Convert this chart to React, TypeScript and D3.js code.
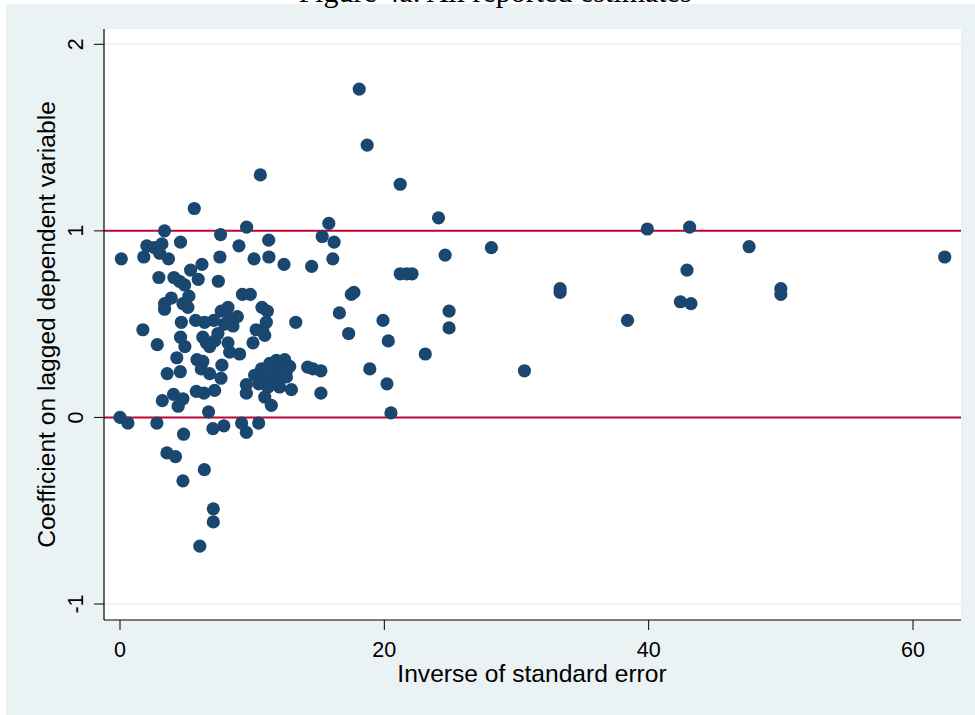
import React, { useEffect } from 'react';
import * as d3 from 'd3';

// inverse of standard error (x) and coefficient (y)
const invSE = [
  0.0, 0.6, 0.1, 1.73, 1.8, 2.03, 2.61, 3.17, 3.0, 3.67, 2.94, 2.82, 2.79, 3.2, 3.37, 3.37, 3.37, 3.57, 3.55, 3.88,
  4.08, 4.5, 4.89, 4.58, 4.76, 5.14, 4.64, 4.58, 4.91, 4.3, 4.56, 4.05, 4.76, 4.4, 4.81, 4.2, 4.76, 5.34, 5.21, 5.62,
  5.72, 6.4, 5.92, 6.2, 6.27, 6.53, 6.78, 5.82, 6.27, 6.15, 6.78, 5.77, 6.35, 6.7, 6.38, 6.04, 7.06, 7.06, 7.03, 7.86,
  7.16, 7.64, 7.71, 7.16, 7.41, 7.44, 7.56, 7.61, 7.66, 8.17, 8.88, 8.3, 7.92, 8.55, 8.17, 8.3, 9.05, 9.0, 9.26, 9.86,
  9.58, 9.56, 9.56, 9.2, 9.56, 10.49, 10.62, 10.14, 11.27, 11.25, 12.41, 10.74, 11.15, 11.07, 10.8, 10.3, 10.95, 10.06, 13.3, 7.1,
  10.19, 10.7, 11.33, 11.83, 12.46, 12.84, 12.97, 10.95, 11.45, 10.82, 11.58, 12.08, 12.59, 11.83, 11.2, 12.2, 11.2, 10.5, 12.3, 11.6,
  12.0, 10.9, 12.6, 14.2, 14.6, 15.2, 15.2, 14.5, 15.3, 15.8, 16.2, 16.1, 16.6, 17.3, 17.5, 17.7, 18.1, 18.7, 18.9, 19.9,
  20.3, 20.2, 20.5, 21.2, 21.2, 21.7, 22.1, 23.1, 24.1, 24.6, 24.9, 24.9, 28.1, 30.6, 33.3, 33.3, 38.4, 39.9, 42.4, 43.2,
  42.9, 43.1, 47.6, 50.0, 50.0, 62.4,
];
const coef = [
  0.0, -0.03, 0.85, 0.47, 0.86, 0.92, 0.91, 0.93, 0.88, 0.85, 0.75, 0.39, -0.03, 0.09, 1.0, 0.61, 0.58, 0.235, -0.19, 0.64,
  0.75, 0.73, 0.71, 0.94, 0.61, 0.59, 0.51, 0.43, 0.38, 0.32, 0.245, 0.124, 0.1, 0.06, -0.09, -0.21, -0.34, 0.79, 0.65, 1.12,
  0.52, 0.51, 0.74, 0.82, 0.43, 0.4, 0.38, 0.31, 0.3, 0.26, 0.235, 0.14, 0.13, 0.03, -0.28, -0.69, -0.49, -0.56, -0.06, -0.045,
  0.145, 0.21, 0.28, 0.41, 0.45, 0.73, 0.86, 0.98, 0.57, 0.59, 0.54, 0.53, 0.5, 0.49, 0.4, 0.35, 0.34, 0.92, 0.66, 0.66,
  1.02, 0.176, 0.13, -0.03, -0.08, -0.03, 1.3, 0.85, 0.86, 0.95, 0.82, 0.59, 0.57, 0.51, 0.47, 0.47, 0.44, 0.4, 0.51, 0.52,
  0.226, 0.26, 0.29, 0.306, 0.31, 0.274, 0.149, 0.109, 0.065, 0.2, 0.2, 0.163, 0.217, 0.235, 0.163, 0.27, 0.235, 0.18, 0.22, 0.26,
  0.19, 0.25, 0.25, 0.27, 0.26, 0.25, 0.13, 0.81, 0.97, 1.04, 0.94, 0.85, 0.56, 0.45, 0.66, 0.67, 1.76, 1.46, 0.26, 0.52,
  0.41, 0.18, 0.024, 1.25, 0.77, 0.77, 0.77, 0.34, 1.07, 0.87, 0.57, 0.48, 0.91, 0.25, 0.69, 0.67, 0.52, 1.01, 0.62, 0.61,
  0.79, 1.02, 0.915, 0.69, 0.66, 0.86,
];
const xTicks = [0, 20, 40, 60];
const yTicks = [-1, 0, 1, 2];
const refLines = [0, 1];

const W = 975;
const H = 715;
const plot = { left: 104, right: 961, top: 29, bottom: 620 };
const NAVY = '#1a476f';
const RED = '#c10534';
const BG = '#eaf2f3';
const SANS = '"Liberation Sans", Arial, sans-serif';

export default function App() {
  useEffect(() => {
    document.body.style.margin = '0';
  }, []);

  const x = d3.scaleLinear().domain([0, 60]).range([120, 913]);
  const y = d3.scaleLinear().domain([-1, 2]).range([604, 44.3]);
  const points = invSE.map((v, i) => ({ x: v, y: coef[i] }));

  return (
    <svg width={W} height={H} style={{ display: 'block' }}>
      <rect x={0} y={0} width={W} height={H} fill="#ffffff" />
      <rect x={6} y={4} width={W - 6} height={H - 4} fill={BG} />
      <rect x={plot.left} y={plot.top} width={plot.right - plot.left} height={plot.bottom - plot.top} fill="#ffffff" />

      {/* title, mostly cropped off the top as in the source image */}
      <text x={495} y={2} textAnchor="middle" fontFamily='"Liberation Serif", "Times New Roman", serif' fontSize={30} fill="#000">
        Figure 4a: All reported estimates
      </text>

      {/* grid */}
      {yTicks.map((t) => (
        <line key={'g' + t} x1={plot.left} x2={plot.right} y1={y(t)} y2={y(t)} stroke={BG} strokeWidth={1.5} />
      ))}

      {/* reference lines */}
      {refLines.map((r) => (
        <line key={'r' + r} x1={plot.left} x2={plot.right} y1={y(r)} y2={y(r)} stroke={RED} strokeWidth={2} />
      ))}

      {/* points */}
      {points.map((d, i) => (
        <circle key={i} cx={x(d.x)} cy={y(d.y)} r={6.6} fill={NAVY} />
      ))}

      {/* axes */}
      <line x1={plot.left} x2={plot.left} y1={plot.top} y2={plot.bottom} stroke="#000" strokeWidth={1.2} />
      <line x1={plot.left} x2={plot.right} y1={plot.bottom} y2={plot.bottom} stroke="#000" strokeWidth={1.2} />

      {yTicks.map((t) => (
        <g key={'yt' + t}>
          <line x1={plot.left - 10} x2={plot.left} y1={y(t)} y2={y(t)} stroke="#000" strokeWidth={1} />
          <text
            transform={`translate(83,${y(t)}) rotate(-90)`}
            textAnchor="middle"
            fontFamily={SANS}
            fontSize={21.5}
            fill="#000"
          >
            {t}
          </text>
        </g>
      ))}
      {xTicks.map((t) => (
        <g key={'xt' + t}>
          <line x1={x(t)} x2={x(t)} y1={plot.bottom} y2={plot.bottom + 10} stroke="#000" strokeWidth={1} />
          <text x={x(t)} y={657} textAnchor="middle" fontFamily={SANS} fontSize={21.5} fill="#000">
            {t}
          </text>
        </g>
      ))}

      <text x={532} y={682} textAnchor="middle" fontFamily={SANS} fontSize={24.6} fill="#000">
        Inverse of standard error
      </text>
      <text
        transform={`translate(55,${(plot.top + plot.bottom) / 2}) rotate(-90)`}
        textAnchor="middle"
        fontFamily={SANS}
        fontSize={24.6}
        fill="#000"
      >
        Coefficient on lagged dependent variable
      </text>
    </svg>
  );
}
